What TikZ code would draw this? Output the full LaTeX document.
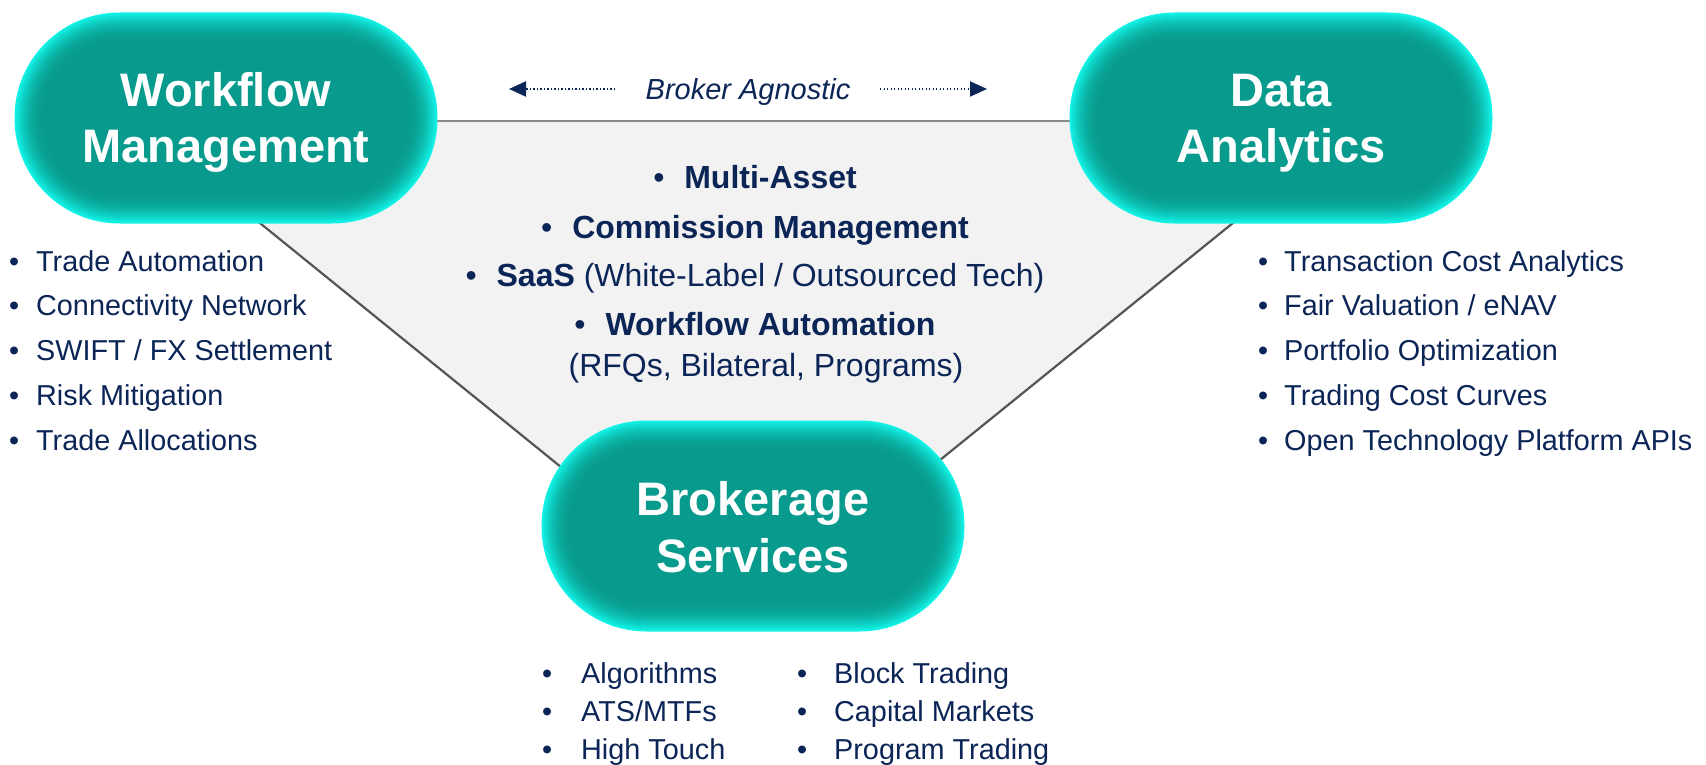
\documentclass[tikz,border=0pt]{standalone}
\usepackage{fontspec}
\setmainfont{Liberation Sans}
\usetikzlibrary{arrows.meta}
\definecolor{navy}{HTML}{0C2557}
\definecolor{glow}{HTML}{12F4E8}
\definecolor{core}{HTML}{089B8D}
\definecolor{trifill}{HTML}{F2F2F2}
\definecolor{sidegray}{HTML}{555555}
\definecolor{topgray}{HTML}{8A8A8A}
\newcommand\glowpill[2]{%
  \foreach \i in {0,...,30}{%
    \pgfmathsetmacro\p{100*(1-(1-\i/30)*(1-\i/30))}%
    \pgfmathsetmacro\r{105-\i}%
    \fill[core!\p!glow, rounded corners=\r pt] ({#1-211.5+\i},{#2-105.5+\i}) rectangle ({#1+211.5-\i},{#2+105.5-\i});
  }}
\newcommand\cb{\makebox[0.35em]{•}\hspace{0.62em}}
\tikzset{
  pillbox/.style={minimum width=423pt, minimum height=211pt, inner sep=0pt},
  pilltxt/.style={anchor=base, text=white, inner sep=0pt, font=\fontsize{47}{56}\selectfont\bfseries},
  ctr/.style={anchor=base, text=navy, inner sep=0pt, font=\fontsize{32}{38}\selectfont},
  lst/.style={anchor=base west, text=navy, inner sep=0pt, font=\fontsize{28.8}{34}\selectfont},
  batxt/.style={anchor=base, text=navy, inner sep=0pt, font=\fontsize{29}{34}\selectfont\itshape},
  darr/.style={draw=navy, line width=2pt, dash pattern=on 1.2pt off 2.3pt, -{Triangle[length=17pt,width=15pt]}},
}
\begin{document}
\begin{tikzpicture}[x=1pt,y=-1pt]
\useasboundingbox (0,0) rectangle (1706,765);
\fill[white] (0,0) rectangle (1706,765);
% triangle
\coordinate (tl) at (134,121);
\coordinate (tr) at (1359,121);
\coordinate (bt) at (746,617);
\fill[trifill] (tl) -- (tr) -- (bt) -- cycle;
\draw[topgray, line width=2pt] (tl) -- (tr);
\draw[sidegray, line width=2.2pt] (tl) -- (bt) -- (tr);
% pills
\glowpill{226}{118}
\glowpill{1281}{118}
\glowpill{753}{526}
\node[pillbox] (wf) at (226,118) {};
\node[pillbox] (da) at (1281,118) {};
\node[pillbox] (bs) at (753,526) {};
\node[pilltxt] (wf1) at (226,107) {Workflow};
\node[pilltxt] (wf2) at (226,163) {Management};
\node[pilltxt] (da1) at (1281,107) {Data};
\node[pilltxt] (da2) at (1281,163) {Analytics};
\node[pilltxt] (bs1) at (753,515) {Brokerage};
\node[pilltxt] (bs2) at (753,572) {Services};
% broker agnostic
\node[batxt] (ba) at (748,100) {Broker Agnostic};
\coordinate (la0) at (615,89);
\coordinate (la) at (509,89);
\coordinate (ra0) at (880,89);
\coordinate (ra) at (987,89);
\draw[darr] (la0) -- (la);
\draw[darr] (ra0) -- (ra);
% center text
\node[ctr] (c1) at (755,189) {\cb\textbf{Multi-Asset}};
\node[ctr] (c2) at (755,238) {\cb\textbf{Commission Management}};
\node[ctr] (c3) at (755,286) {\cb\textbf{SaaS} (White-Label / Outsourced Tech)};
\node[ctr] (c4) at (755,335) {\cb\textbf{Workflow Automation}};
\node[ctr] (c5) at (766,376) {(RFQs, Bilateral, Programs)};
% left list
\foreach \t [count=\k] in {Trade Automation, Connectivity Network, SWIFT / FX Settlement, Risk Mitigation, Trade Allocations}
  \node[lst] (l\k) at (9,{226.25+44.75*\k}) {\makebox[27pt][l]{•}\t};
% right list
\foreach \t [count=\k] in {Transaction Cost Analytics, Fair Valuation / eNAV, Portfolio Optimization, Trading Cost Curves, Open Technology Platform APIs}
  \node[lst] (r\k) at (1258,{226.25+44.75*\k}) {\makebox[26pt][l]{•}\t};
% bottom lists
\foreach \t [count=\k] in {Algorithms, ATS/MTFs, High Touch}
  \node[lst] (b\k) at (542,{645+38*\k}) {\makebox[39pt][l]{•}\t};
\foreach \t [count=\k] in {Block Trading, Capital Markets, Program Trading}
  \node[lst] (p\k) at (797,{645+38*\k}) {\makebox[37pt][l]{•}\t};
\end{tikzpicture}
\end{document}
